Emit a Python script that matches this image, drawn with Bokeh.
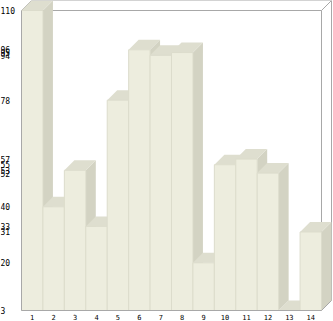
from bokeh.plotting import figure
from bokeh.models import Range1d, ColumnDataSource
from bokeh.core.properties import value
from bokeh.embed import file_html
from bokeh.resources import INLINE

# ---- data ----
categories = [str(i) for i in range(1, 15)]
values = [110, 40, 53, 33, 78, 96, 94, 95, 20, 55, 57, 52, 3, 31]
y_tick_values = sorted(set(values))

# ---- layout (pixels) ----
W, H = 333, 321
L, R, T, B = 21, 321, 10, 310   # front plotting face
D = 10                            # 3D depth in px

n = len(values)
xs = list(range(1, n + 1))
ymin, ymax = min(values), max(values)
ppx = (R - L) / n
ppy = (B - T) / (ymax - ymin)
x0 = 0.5 - L / ppx
x1 = n + 0.5 + (W - R) / ppx
y0 = ymin - (H - B) / ppy
y1 = ymax + T / ppy
dx = D / ppx
dy = D / ppy

FRONT = "#EDEDDE"
TOP = "#DEDECF"
SIDE = "#D3D3C3"
EDGE = "#DCDCCC"
GRID = "#A8A8A8"
FONT = value("DejaVu Sans Mono")

p = figure(width=W, height=H, x_range=Range1d(x0, x1), y_range=Range1d(y0, y1),
           output_backend="svg", toolbar_location=None, min_border=0,
           x_axis_type=None, y_axis_type=None)
p.grid.visible = False
p.outline_line_color = None
p.background_fill_color = "white"
p.border_fill_color = "white"

xl, xr = 0.5, n + 0.5
# back frame lines
p.segment(x0=[xl, xr, xl + dx, xr + dx, xl, xr],
          y0=[ymax, ymax, ymax + dy, ymax + dy, ymax, ymax],
          x1=[xr, xr, xr + dx, xr + dx, xl + dx, xr + dx],
          y1=[ymax, ymin, ymax + dy, ymin + dy, ymax + dy, ymax + dy],
          line_color=GRID, line_width=1)

# side faces
side_xs, side_ys = [], []
for x, v in zip(xs, values):
    side_xs.append([x + 0.5, x + 0.5 + dx, x + 0.5 + dx, x + 0.5])
    side_ys.append([ymin, ymin + dy, v + dy, v])
p.patches(side_xs, side_ys, fill_color=SIDE, line_color=None)

# top faces (shorter first so taller tops are in front)
order = sorted(range(n), key=lambda i: values[i])
top_xs, top_ys = [], []
for i in order:
    x, v = xs[i], values[i]
    top_xs.append([x - 0.5, x - 0.5 + dx, x + 0.5 + dx, x + 0.5])
    top_ys.append([v, v + dy, v + dy, v])
p.patches(top_xs, top_ys, fill_color=TOP, line_color=None)

# front faces
src = ColumnDataSource(dict(x=xs, top=values, cat=categories))
p.vbar(x="x", top="top", bottom=ymin, width=1.0, source=src,
       fill_color=FRONT, line_color=EDGE, line_width=1)

# axis lines
p.segment(x0=[xl, xl, xr], y0=[ymin, ymin, ymin],
          x1=[xl, xr, xr + dx], y1=[ymax, ymin, ymin + dy],
          line_color=GRID, line_width=1)

# y tick labels (the data values)
p.text(x=[x0] * len(y_tick_values), y=y_tick_values,
       text=[str(t) for t in y_tick_values],
       text_font=FONT, text_font_size="8px", text_color="#000000",
       text_align="left", text_baseline="alphabetic")

# x tick labels
p.text(x="x", y=ymin - 6.8 / ppy, text="cat", source=src,
       text_font=FONT, text_font_size="7px", text_color="#000000",
       text_align="center", text_baseline="middle")

open("out.html", "w").write(file_html(p, INLINE))
